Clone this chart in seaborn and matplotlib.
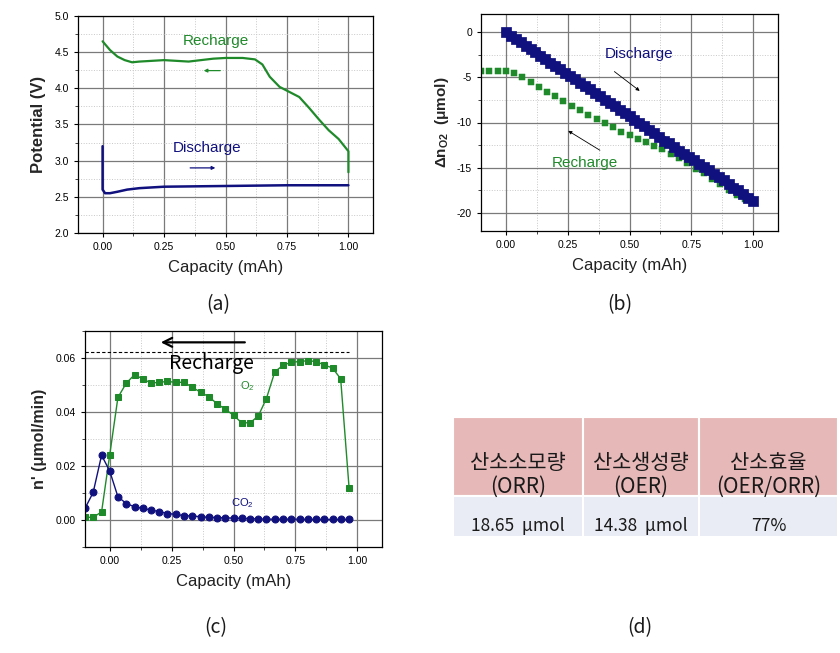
import matplotlib
matplotlib.use("Agg")
import matplotlib.pyplot as plt
from matplotlib.ticker import MultipleLocator
import seaborn as sns

# ---- (a) voltage profiles ----
rech_cap = [0.00, 0.03, 0.06, 0.09, 0.12, 0.15, 0.20, 0.25, 0.30, 0.35, 0.40, 0.45,
            0.50, 0.57, 0.62, 0.65, 0.68, 0.72, 0.76, 0.80, 0.84, 0.88, 0.92, 0.96,
            1.00, 1.00]
rech_volt = [4.65, 4.53, 4.44, 4.39, 4.36, 4.37, 4.38, 4.39, 4.38, 4.37, 4.39, 4.41,
             4.42, 4.42, 4.40, 4.33, 4.16, 4.02, 3.95, 3.88, 3.73, 3.57, 3.42, 3.30,
             3.13, 2.84]
dis_cap = [0.00, 0.00, 0.01, 0.03, 0.06, 0.10, 0.15, 0.25, 0.50, 0.75, 1.00]
dis_volt = [3.20, 2.60, 2.55, 2.55, 2.57, 2.60, 2.62, 2.64, 2.65, 2.66, 2.66]

# ---- (b) delta n O2 ----
dn_dis_cap = [0.00, 0.02, 0.04, 0.06, 0.08, 0.10, 0.12, 0.14, 0.16, 0.18, 0.20,
              0.22, 0.24, 0.26, 0.28, 0.30, 0.32, 0.34, 0.36, 0.38, 0.40, 0.42,
              0.44, 0.46, 0.48, 0.50, 0.52, 0.54, 0.56, 0.58, 0.60, 0.62, 0.64,
              0.66, 0.68, 0.70, 0.72, 0.74, 0.76, 0.78, 0.80, 0.82, 0.84, 0.86,
              0.88, 0.90, 0.92, 0.94, 0.96, 0.98, 1.00]
dn_dis = [0.0, -0.4, -0.8, -1.1, -1.5, -1.9, -2.2, -2.6, -3.0, -3.4, -3.7,
          -4.1, -4.5, -4.9, -5.2, -5.6, -6.0, -6.3, -6.7, -7.1, -7.5, -7.8,
          -8.2, -8.6, -8.9, -9.3, -9.7, -10.1, -10.4, -10.8, -11.2, -11.6, -12.0,
          -12.3, -12.7, -13.1, -13.5, -13.8, -14.2, -14.6, -14.9, -15.3, -15.7,
          -16.0, -16.4, -16.8, -17.2, -17.5, -17.9, -18.3, -18.65]

rech_pts = [-0.100, -0.067, -0.033, 0.000, 0.033, 0.067, 0.100, 0.133, 0.167, 0.200,
            0.233, 0.267, 0.300, 0.333, 0.367, 0.400, 0.433, 0.467, 0.500, 0.533,
            0.567, 0.600, 0.633, 0.667, 0.700, 0.733, 0.767, 0.800, 0.833, 0.867,
            0.900, 0.933, 0.967]
dn_rech = [-4.25, -4.25, -4.3, -4.3, -4.55, -5.0, -5.55, -6.1, -6.6, -7.1,
           -7.6, -8.15, -8.65, -9.15, -9.6, -10.1, -10.55, -11.05, -11.4, -11.8,
           -12.2, -12.55, -12.95, -13.5, -13.95, -14.5, -15.1, -15.6, -16.25, -16.85,
           -17.5, -18.05, -18.5]

# ---- (c) gas evolution rates ----
rate_o2 = [0.001, 0.001, 0.003, 0.0242, 0.0454, 0.0507, 0.0538, 0.0523, 0.0507, 0.051,
           0.0513, 0.051, 0.051, 0.0492, 0.0473, 0.0457, 0.0431, 0.041, 0.0388, 0.036,
           0.036, 0.0385, 0.045, 0.0549, 0.0573, 0.0584, 0.0587, 0.059, 0.0587, 0.0574,
           0.0563, 0.0523, 0.0119]
rate_co2 = [0.0043, 0.0102, 0.024, 0.0181, 0.0086, 0.0061, 0.0049, 0.0043, 0.0037, 0.0031,
            0.0024, 0.0021, 0.0016, 0.0015, 0.0012, 0.0010, 0.0009, 0.0008, 0.0007, 0.0006,
            0.0005, 0.0004, 0.0003, 0.0003, 0.0003, 0.0003, 0.0003, 0.0002, 0.0002, 0.0002,
            0.0002, 0.0002, 0.0002]

# ---- (d) table ----
table_head = ["산소소모량\n(ORR)", "산소생성량\n(OER)", "산소효율\n(OER/ORR)"]
table_vals = ["18.65  μmol", "14.38  μmol", "77%"]

GREEN = "#1f8a2a"
NAVY = "#10107e"

sns.set_style("white")
plt.rcParams['font.family'] = ['Liberation Sans', 'DejaVu Sans']
plt.rcParams['mathtext.default'] = 'regular'
plt.rcParams['axes.unicode_minus'] = False

fig = plt.figure(figsize=(8.4, 6.53), dpi=100)
W, H = 840, 653


def px_axes(l, t, r, b):
    return fig.add_axes([l / W, 1 - b / H, (r - l) / W, (b - t) / H])


def style(ax, ymaj, ymin):
    ax.set_xlim(-0.1, 1.1)
    ax.xaxis.set_major_locator(MultipleLocator(0.25))
    ax.xaxis.set_minor_locator(MultipleLocator(0.125))
    ax.yaxis.set_major_locator(MultipleLocator(ymaj))
    ax.yaxis.set_minor_locator(MultipleLocator(ymin))
    ax.grid(which='major', color='#7a7a7a', lw=0.9)
    ax.grid(which='minor', color='#c8c8c8', lw=0.7, ls=':')
    ax.set_axisbelow(True)
    for s in ax.spines.values():
        s.set_color('black')
        s.set_linewidth(0.9)
    ax.tick_params(which='major', direction='out', length=3, width=0.8,
                   labelsize=7.5, colors='black', left=True, bottom=True)
    ax.tick_params(which='minor', direction='out', length=2, width=0.6,
                   left=True, bottom=True)
    ax.xaxis.set_major_formatter(matplotlib.ticker.FormatStrFormatter('%.2f'))
    ax.set_xlabel("Capacity (mAh)", fontsize=12, color='#222222', labelpad=6)


# (a)
ax1 = px_axes(78, 16, 373, 233)
sns.lineplot(x=rech_cap, y=rech_volt, sort=False, estimator=None, color=GREEN, lw=1.6, ax=ax1)
sns.lineplot(x=dis_cap, y=dis_volt, sort=False, estimator=None, color=NAVY, lw=1.8, ax=ax1)
style(ax1, 0.5, 0.25)
ax1.set_ylim(2.0, 5.0)
ax1.yaxis.set_major_formatter(matplotlib.ticker.FormatStrFormatter('%.1f'))
ax1.set_ylabel("Potential (V)", fontsize=12, fontweight='bold', labelpad=6)
ax1.text(0.46, 4.66, "Recharge", color=GREEN, fontsize=11, ha='center', va='center')
ax1.text(0.425, 3.17, "Discharge", color=NAVY, fontsize=11, ha='center', va='center')
ax1.annotate("", xy=(0.40, 4.245), xytext=(0.49, 4.245),
             arrowprops=dict(arrowstyle='-|>', color=GREEN, lw=0.9, mutation_scale=5))
ax1.annotate("", xy=(0.47, 2.90), xytext=(0.345, 2.90),
             arrowprops=dict(arrowstyle='-|>', color=NAVY, lw=0.9, mutation_scale=5))

# (b)
ax2 = px_axes(481, 14, 778, 231)
sns.lineplot(x=dn_dis_cap, y=dn_dis, sort=False, estimator=None, color=NAVY, lw=6, ax=ax2)
sns.scatterplot(x=dn_dis_cap, y=dn_dis, marker='s', s=42, color=NAVY, edgecolor=NAVY, ax=ax2, zorder=3)
sns.scatterplot(x=rech_pts, y=dn_rech, marker='s', s=20, color=GREEN, edgecolor=GREEN, ax=ax2, zorder=2)
style(ax2, 5, 2.5)
ax2.set_ylim(-22, 2)
ax2.set_ylabel("Δn$_{O2}$  (μmol)", fontsize=11, fontweight='bold', labelpad=4)
ax2.text(0.54, -2.44, "Discharge", color=NAVY, fontsize=11, ha='center', va='center')
ax2.text(0.32, -14.5, "Recharge", color=GREEN, fontsize=11, ha='center', va='center')
ax2.annotate("", xy=(0.55, -6.69), xytext=(0.43, -4.18),
             arrowprops=dict(arrowstyle='-|>', color='black', lw=0.6, mutation_scale=5))
ax2.annotate("", xy=(0.243, -10.76), xytext=(0.39, -13.23),
             arrowprops=dict(arrowstyle='-|>', color='black', lw=0.6, mutation_scale=5))

# (c)
ax3 = px_axes(85, 331, 382, 547)
sns.lineplot(x=rech_pts, y=rate_o2, sort=False, estimator=None, color=GREEN, lw=1,
             marker='s', markersize=5, markeredgecolor=GREEN, ax=ax3)
sns.lineplot(x=rech_pts, y=rate_co2, sort=False, estimator=None, color=NAVY, lw=1,
             marker='o', markersize=5, markeredgecolor=NAVY, ax=ax3)
style(ax3, 0.02, 0.01)
ax3.set_ylim(-0.01, 0.07)
ax3.yaxis.set_major_formatter(matplotlib.ticker.FormatStrFormatter('%.2f'))
ax3.set_ylabel("n' (μmol/min)", fontsize=11.5, fontweight='bold', labelpad=6)
ax3.axhline(0.0621, xmin=0, xmax=(0.966 + 0.1) / 1.2, color='black', lw=0.8, ls=(0, (3, 2)))
ax3.annotate("", xy=(0.195, 0.0658), xytext=(0.557, 0.0658),
             arrowprops=dict(arrowstyle='->', color='black', lw=1.6, mutation_scale=16))
ax3.text(0.41, 0.0578, "Recharge", color='black', fontsize=14, ha='center', va='center',
         family=['Noto Sans CJK KR', 'DejaVu Sans'])
ax3.text(0.557, 0.0496, "O$_2$", color=GREEN, fontsize=8, ha='center', va='center')
ax3.text(0.534, 0.0064, "CO$_2$", color=NAVY, fontsize=8, ha='center', va='center')

# (d) table
ax4 = px_axes(453, 417, 838, 537)
ax4.set_xlim(0, 385)
ax4.set_ylim(0, 120)
ax4.axis('off')
col_left = [0, 130, 246]
col_w = [130, 116, 139]
ax4.bar(col_left, [79] * 3, width=col_w, bottom=41, align='edge',
        color='#e6b9b8', edgecolor='white', linewidth=1.5)
ax4.bar(col_left, [41] * 3, width=col_w, bottom=0, align='edge',
        color='#e9ecf4', edgecolor='white', linewidth=1.5)
cjk = ['Noto Sans CJK KR', 'DejaVu Sans']
for l, w, head, val in zip(col_left, col_w, table_head, table_vals):
    ax4.text(l + w / 2, 62, head, ha='center', va='center', fontsize=15,
             color='#1a1a1a', family=cjk, linespacing=1.08)
    ax4.text(l + w / 2, 11, val, ha='center', va='center', fontsize=12.5,
             color='#1a1a1a', family=cjk)

for lab, x, y in [("(a)", 218, 305), ("(b)", 620, 305), ("(c)", 216, 628), ("(d)", 640, 628)]:
    fig.text(x / W, 1 - y / H, lab, ha='center', va='center', fontsize=14,
             family=cjk, color='#1a1a1a')

fig.savefig("out.png", dpi=100)
